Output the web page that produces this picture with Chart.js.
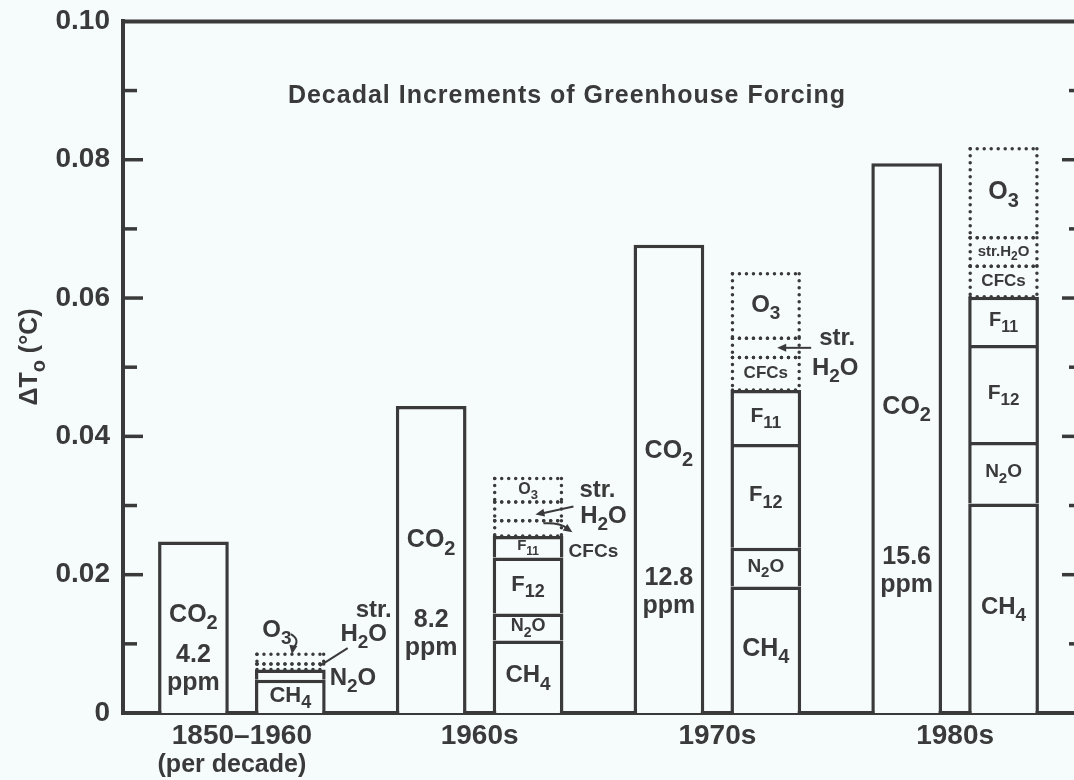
<!DOCTYPE html>
<html>
<head>
<meta charset="utf-8">
<title>Decadal Increments of Greenhouse Forcing</title>
<script src="https://cdn.jsdelivr.net/npm/chart.js@4.4.0/dist/chart.umd.min.js"></script>
<style>
  html, body { margin: 0; padding: 0; background: #f6fbfb; }
  #wrap { width: 1074px; height: 780px; }
</style>
</head>
<body>
<div id="wrap"><canvas id="myChart" width="1074" height="780"></canvas></div>
<script>
'use strict';

// data (deg C per decade)
var periods = ['1850\u20131960', '1960s', '1970s', '1980s'];
var co2Values = [0.0248, 0.0444, 0.0677, 0.0795];
var co2Ppm = ['4.2', '8.2', '12.8', '15.6'];
var ch4Values = [0.0048, 0.0105, 0.0183, 0.0303];
var n2oValues = [0.0015, 0.0039, 0.0056, 0.0089];
var f12Values = [0, 0.0081, 0.0150, 0.0140];
var f11Values = [0, 0.0031, 0.0078, 0.0070];
var cfcValues = [0, 0.0022, 0.0047, 0.0044];
var strH2oValues = [0.0008, 0.0027, 0.0028, 0.0041];
var o3Values = [0.0014, 0.0034, 0.0093, 0.0129];
var yTicks = [0, 0.02, 0.04, 0.06, 0.08, 0.10];

var INK = '#3a3a3a';
var BG = '#f6fbfb';
var FONT = '"Liberation Sans", Arial, Helvetica, sans-serif';

// label sizes inside the gas bars (0 = no label inside)
var innerSize = {
  CH4: [22, 24, 25, 24],
  N2O: [0, 18, 19, 19],
  F12: [0, 22, 22, 21],
  F11: [0, 15, 21, 20],
  CFCs: [0, 0, 17, 17],
  strH2O: [0, 0, 0, 15],
  O3: [0, 16, 24, 25]
};
var richName = {
  CH4: 'CH_{4}', N2O: 'N_{2}O', F12: 'F_{12}', F11: 'F_{11}',
  CFCs: 'CFCs', strH2O: 'str.H_{2}O', O3: 'O_{3}'
};

function gasSet(label, data, dotted) {
  return {
    label: label,
    data: data,
    stack: 'gases',
    backgroundColor: dotted ? 'rgba(0,0,0,0)' : BG,
    borderColor: INK,
    borderWidth: dotted ? 0 : 3.5,
    dotted: dotted
  };
}

function parseRich(str) {
  var parts = [];
  var re = /_\{([^}]*)\}/g;
  var last = 0;
  var m;
  while ((m = re.exec(str))) {
    if (m.index > last) parts.push({ t: str.slice(last, m.index), sub: false });
    parts.push({ t: m[1], sub: true });
    last = re.lastIndex;
  }
  if (last < str.length) parts.push({ t: str.slice(last), sub: false });
  return parts;
}

// draws text with subscripts, centred on x, y = visual middle of capitals
function drawRich(ctx, str, x, y, size, align) {
  var parts = parseRich(str);
  var subSize = Math.round(size * 0.8);
  var w = 0;
  parts.forEach(function (p) {
    ctx.font = 'bold ' + (p.sub ? subSize : size) + 'px ' + FONT;
    p.w = ctx.measureText(p.t).width;
    w += p.w;
  });
  var cx = align === 'left' ? x : x - w / 2;
  var base = y + size * 0.36;
  ctx.textAlign = 'left';
  ctx.textBaseline = 'alphabetic';
  ctx.fillStyle = INK;
  parts.forEach(function (p) {
    ctx.font = 'bold ' + (p.sub ? subSize : size) + 'px ' + FONT;
    ctx.fillText(p.t, cx, p.sub ? base + size * 0.3 : base);
    cx += p.w;
  });
}

function line(ctx, x1, y1, x2, y2) {
  ctx.beginPath();
  ctx.moveTo(x1, y1);
  ctx.lineTo(x2, y2);
  ctx.stroke();
}

function arrowHead(ctx, x, y, angle) {
  ctx.save();
  ctx.translate(x, y);
  ctx.rotate(angle);
  ctx.beginPath();
  ctx.moveTo(0, 0);
  ctx.lineTo(-9, -4);
  ctx.lineTo(-9, 4);
  ctx.closePath();
  ctx.fill();
  ctx.restore();
}

var decorations = {
  id: 'decorations',
  afterDraw: function (chart) {
    var ctx = chart.ctx;
    var area = chart.chartArea;
    var yScale = chart.scales.y;
    var xScale = chart.scales.x;
    var sets = chart.data.datasets;

    function bar(label, i) {
      for (var k = 0; k < sets.length; k++) {
        if (sets[k].label === label) return chart.getDatasetMeta(k).data[i];
      }
      return null;
    }

    ctx.save();
    ctx.strokeStyle = INK;
    ctx.fillStyle = INK;
    ctx.lineCap = 'butt';

    // top frame line
    ctx.lineWidth = 4;
    var topY = yScale.getPixelForValue(yTicks[yTicks.length - 1]);
    line(ctx, area.left - 2, topY, area.right, topY);

    // inward ticks, majors and minors, both sides
    ctx.lineWidth = 3.5;
    for (var t = 0; t < yTicks.length; t++) {
      var vals = [yTicks[t]];
      if (t < yTicks.length - 1) vals.push((yTicks[t] + yTicks[t + 1]) / 2);
      vals.forEach(function (v, j) {
        if (v === 0 || v === yTicks[yTicks.length - 1]) return;
        var py = yScale.getPixelForValue(v);
        var major = j === 0;
        line(ctx, area.left, py, area.left + (major ? 20 : 14), py);
        line(ctx, area.right - (major ? 12 : 5), py, area.right, py);
      });
    }

    // dotted boxes
    ctx.lineWidth = 3.5;
    ctx.lineCap = 'round';
    ctx.setLineDash([0, 7]);
    sets.forEach(function (ds, k) {
      if (!ds.dotted) return;
      chart.getDatasetMeta(k).data.forEach(function (el) {
        var h = el.base - el.y;
        if (h < 1) return;
        var l = el.x - el.width / 2 + 2;
        var r = el.x + el.width / 2 - 2;
        line(ctx, l, el.y, r, el.y);
        line(ctx, l, el.base, r, el.base);
        line(ctx, l, el.y, l, el.base);
        line(ctx, r, el.y, r, el.base);
      });
    });
    ctx.setLineDash([]);
    ctx.lineCap = 'butt';

    // title
    ctx.font = 'bold 25px ' + FONT;
    ctx.fillStyle = INK;
    ctx.textAlign = 'center';
    ctx.textBaseline = 'alphabetic';
    ctx.letterSpacing = '1px';
    ctx.fillText('Decadal Increments of Greenhouse Forcing', 567, 103);
    ctx.letterSpacing = '0px';

    // y axis title
    ctx.save();
    ctx.translate(28, 357);
    ctx.rotate(-Math.PI / 2);
    drawRich(ctx, '\u0394T_{o} (\u00b0C)', 0, 0, 25);
    ctx.restore();

    // "(per decade)" under the first period
    ctx.font = 'bold 25px ' + FONT;
    ctx.textAlign = 'center';
    ctx.textBaseline = 'alphabetic';
    ctx.fillText('(per decade)', xScale.getPixelForValue(0) - 10, 772);

    // CO2 bars
    co2Values.forEach(function (v, i) {
      var el = bar('CO2', i);
      var h = el.base - el.y;
      drawRich(ctx, 'CO_{2}', el.x, el.y + h * 0.45 - 6, 25);
      var ppmY = el.base - (h * 0.26 - 15);
      drawRich(ctx, co2Ppm[i], el.x, ppmY - 30, 25);
      drawRich(ctx, 'ppm', el.x, ppmY - 2, 25);
    });

    // labels inside the gas bars
    Object.keys(innerSize).forEach(function (key) {
      innerSize[key].forEach(function (size, i) {
        if (!size) return;
        var el = bar(key, i);
        var mid = (el.y + el.base) / 2 - size * 0.12;
        drawRich(ctx, richName[key], el.x, mid, size);
      });
    });

    ctx.lineWidth = 2;

    // 1850-1960 callouts
    var o3a = bar('O3', 0);
    var sa = bar('strH2O', 0);
    var na = bar('N2O', 0);
    var leftA = o3a.x - o3a.width / 2;
    var rightA = o3a.x + o3a.width / 2;
    drawRich(ctx, 'O_{3}', leftA + 22, o3a.y - 26, 24);
    ctx.beginPath();
    ctx.moveTo(leftA + 36, o3a.y - 20);
    ctx.quadraticCurveTo(leftA + 46, o3a.y - 14, leftA + 38, o3a.y - 6);
    ctx.stroke();
    arrowHead(ctx, leftA + 37, o3a.y, Math.PI * 0.55);
    drawRich(ctx, 'str.', rightA + 48, o3a.y - 46, 24);
    drawRich(ctx, 'H_{2}O', rightA + 38, o3a.y - 22, 24);
    line(ctx, rightA + 22, o3a.y - 6, rightA - 6, sa.y + 2);
    drawRich(ctx, 'N_{2}O', rightA + 4, (na.y + na.base) / 2 + 2, 24, 'left');

    // 1960s callouts
    var o3b = bar('O3', 1);
    var sb = bar('strH2O', 1);
    var cb = bar('CFCs', 1);
    var rightB = o3b.x + o3b.width / 2;
    var sMid = (sb.y + sb.base) / 2;
    var cMid = (cb.y + cb.base) / 2;
    drawRich(ctx, 'str.', rightB + 34, (o3b.y + o3b.base) / 2 - 2, 24);
    drawRich(ctx, 'H_{2}O', rightB + 40, sMid + 3, 24);
    line(ctx, rightB + 10, sMid - 5, rightB - 22, sMid + 2);
    arrowHead(ctx, rightB - 28, sMid + 3, Math.PI - 0.2);
    ctx.beginPath();
    ctx.moveTo(rightB - 20, cMid - 5);
    ctx.quadraticCurveTo(rightB - 4, cMid - 6, rightB + 4, cMid);
    ctx.stroke();
    arrowHead(ctx, rightB + 9, cMid + 4, 0.6);
    drawRich(ctx, 'CFCs', rightB + 30, cMid + 22, 19);

    // 1970s callouts
    var sc = bar('strH2O', 2);
    var rightC = sc.x + sc.width / 2;
    var scMid = (sc.y + sc.base) / 2;
    drawRich(ctx, 'str.', rightC + 36, sc.y - 2, 24);
    drawRich(ctx, 'H_{2}O', rightC + 34, sc.y + 28, 24);
    line(ctx, rightC + 10, scMid, rightC - 18, scMid);
    arrowHead(ctx, rightC - 24, scMid, Math.PI);

    ctx.restore();
  }
};

var ctx = document.getElementById('myChart').getContext('2d');
var chart = new Chart(ctx, {
  type: 'bar',
  data: {
    labels: periods,
    datasets: [
      {
        label: 'CO2',
        data: co2Values,
        stack: 'co2',
        backgroundColor: BG,
        borderColor: INK,
        borderWidth: 3.5
      },
      gasSet('CH4', ch4Values, false),
      gasSet('N2O', n2oValues, false),
      gasSet('F12', f12Values, false),
      gasSet('F11', f11Values, false),
      gasSet('CFCs', cfcValues, true),
      gasSet('strH2O', strH2oValues, true),
      gasSet('O3', o3Values, true)
    ]
  },
  options: {
    responsive: false,
    animation: false,
    events: [],
    layout: { padding: { top: 21, left: 0, right: 0, bottom: 0 } },
    datasets: { bar: { categoryPercentage: 0.815, barPercentage: 0.73 } },
    plugins: {
      legend: { display: false },
      tooltip: { enabled: false },
      title: { display: false }
    },
    scales: {
      x: {
        stacked: true,
        grid: { display: false, drawTicks: false, tickLength: 0 },
        border: { display: true, color: INK, width: 4 },
        ticks: {
          color: INK,
          padding: 6,
          font: { family: FONT, size: 28, weight: 'bold' }
        },
        afterFit: function (scale) { scale.height = 67; }
      },
      y: {
        stacked: true,
        min: 0,
        max: 0.1,
        grid: { display: false, drawTicks: false, tickLength: 0 },
        border: { display: true, color: INK, width: 4 },
        afterBuildTicks: function (scale) {
          scale.ticks = yTicks.map(function (v) { return { value: v }; });
        },
        ticks: {
          color: INK,
          padding: 13,
          font: { family: FONT, size: 28, weight: 'bold', lineHeight: 0.6 },
          callback: function (v) { return v === 0 ? '0' : v.toFixed(2); }
        },
        afterFit: function (scale) { scale.width = 123; }
      }
    }
  },
  plugins: [decorations]
});
</script>
</body>
</html>
